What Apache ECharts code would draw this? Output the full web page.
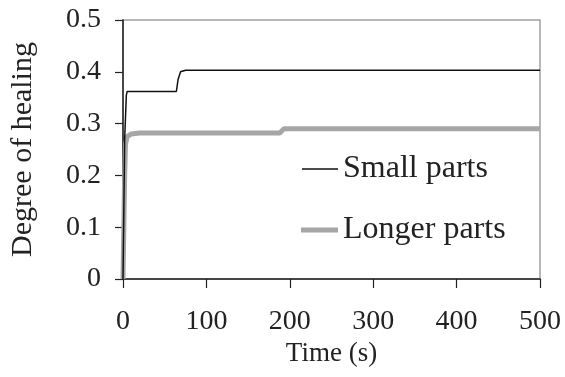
<!DOCTYPE html>
<html><head><meta charset="utf-8">
<script src="https://cdn.jsdelivr.net/npm/echarts@6/dist/echarts.min.js"></script>
<style>html,body{margin:0;padding:0;background:#fff}#c{width:565px;height:377px}</style>
</head><body><div id="c"></div>
<script>
const xTicks = [0, 100, 200, 300, 400, 500];
const yTicks = [0, 0.1, 0.2, 0.3, 0.4, 0.5];
const smallTime  = [0, 2, 4, 5, 64, 66, 69, 75, 500];
const smallValue = [0, 0.27, 0.355, 0.362, 0.362, 0.385, 0.400, 0.403, 0.403];
const longTime   = [0, 1, 2, 3, 5, 10, 20, 188, 193, 500];
const longValue  = [0, 0.1, 0.2, 0.26, 0.275, 0.28, 0.282, 0.282, 0.29, 0.29];
const seriesNames = ['Small parts', 'Longer parts'];

const pair = (t, v) => t.map((x, i) => [x, v[i]]);
const font = '"Liberation Serif", "Times New Roman", serif';
const legendText = {fontFamily: font, fontSize: 32, color: '#222'};
const chart = echarts.init(document.getElementById('c'), null, {renderer: 'canvas'});
chart.setOption({
  animation: false,
  backgroundColor: '#fff',
  grid: {left: 122, right: 25, top: 20, bottom: 98, show: true, borderColor: '#a0a0a0', borderWidth: 1.5},
  xAxis: {
    type: 'value', min: xTicks[0], max: xTicks[xTicks.length - 1], interval: 100,
    name: 'Time (s)', nameLocation: 'middle', nameGap: 57,
    nameTextStyle: {fontFamily: font, fontSize: 27, color: '#222'},
    axisLine: {onZero: false, lineStyle: {color: '#222', width: 1.5}},
    axisTick: {inside: false, length: 9, lineStyle: {color: '#222', width: 1.2}},
    axisLabel: {fontFamily: font, fontSize: 28, color: '#222', margin: 29},
    splitLine: {show: false}
  },
  yAxis: {
    type: 'value', min: yTicks[0], max: yTicks[yTicks.length - 1], interval: 0.1,
    name: 'Degree of healing', nameLocation: 'middle', nameGap: 85, nameRotate: 90,
    nameTextStyle: {fontFamily: font, fontSize: 30, color: '#222'},
    axisLine: {lineStyle: {color: '#222', width: 1.5}},
    axisTick: {inside: false, length: 8, lineStyle: {color: '#222', width: 1.2}},
    axisLabel: {fontFamily: font, fontSize: 28, color: '#222', margin: 22,
      formatter: v => (v === 0 ? '0' : String(Math.round(v * 10) / 10))},
    splitLine: {show: false}
  },
  legend: [
    {orient: 'vertical', left: 302, top: 153, padding: 0, itemWidth: 36, itemHeight: 1.5, icon: 'rect',
     textStyle: legendText, data: [seriesNames[0]]},
    {orient: 'vertical', left: 301, top: 214, padding: 0, itemWidth: 37, itemHeight: 5, icon: 'rect',
     textStyle: legendText, data: [seriesNames[1]]}
  ],
  series: [
    {name: seriesNames[0], type: 'line', data: pair(smallTime, smallValue), showSymbol: false, symbol: 'none',
     lineStyle: {color: '#111', width: 1.5}, itemStyle: {color: '#111'}, z: 3},
    {name: seriesNames[1], type: 'line', data: pair(longTime, longValue), showSymbol: false, symbol: 'none',
     lineStyle: {color: '#a6a6a6', width: 5}, itemStyle: {color: '#a6a6a6'}, z: 2}
  ]
});
</script></body></html>
